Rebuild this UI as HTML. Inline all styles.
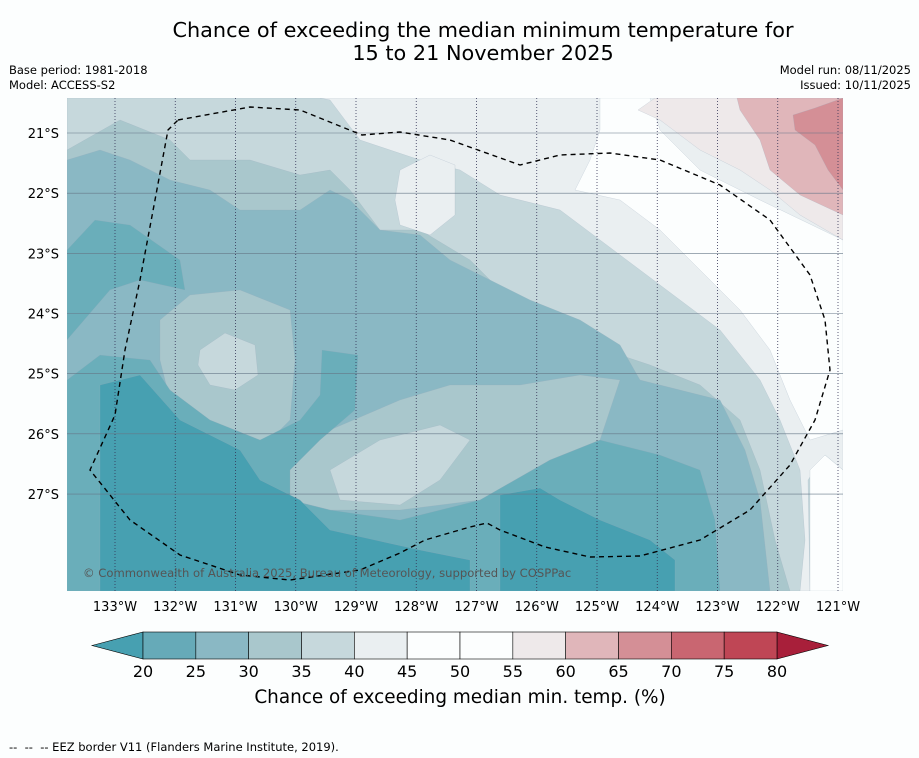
<!DOCTYPE html>
<html><head><meta charset="utf-8"><style>
body{margin:0;background:#fcfefe;font-family:"DejaVu Sans","Liberation Sans",sans-serif;}
#wrap{position:relative;width:919px;height:758px;overflow:hidden;}
.t{position:absolute;color:#000;}
svg text{font-family:"DejaVu Sans","Liberation Sans",sans-serif;}
</style></head><body>
<div id="wrap">
<div class="t" style="left:0;width:966px;top:19px;text-align:center;font-size:20.8px;line-height:23px;">Chance of exceeding the median minimum temperature for<br>15 to 21 November 2025</div>
<div class="t" style="left:9px;top:63px;font-size:11.5px;line-height:15px;">Base period: 1981-2018<br>Model: ACCESS-S2</div>
<div class="t" style="right:8px;top:63px;font-size:11.5px;line-height:15px;text-align:right;">Model run: 08/11/2025<br>Issued: 10/11/2025</div>
<div class="t" style="left:9px;top:740px;font-size:11.5px;">-- &nbsp;-- &nbsp;-- EEZ border V11 (Flanders Marine Institute, 2019).</div>
<svg id="svg" width="919" height="758" style="position:absolute;left:0;top:0"></svg>
</div>
<script>
const lonTicks=[133,132,131,130,129,128,127,126,125,124,123,122,121];
const latTicks=[21,22,23,24,25,26,27];
const cbTicks=[20,25,30,35,40,45,50,55,60,65,70,75,80];
const cbColors=["#66aab8","#8ab8c4","#a9c7cc","#c6d8dc","#eaeff1","#fcfefe","#fcfefe","#eee9ea","#e0b6ba","#d48f96","#c96671","#bf4655"];
const x=lon=>115+(133-lon)*60.25;
const y=lat=>133+(lat-21)*60.17;
const cx=v=>143+(v-20)*(634/60);
const NS="http://www.w3.org/2000/svg";
const svg=document.getElementById('svg');
function mk(tag,attrs,parent){const e=document.createElementNS(NS,tag);for(const k in attrs)e.setAttribute(k,attrs[k]);(parent||svg).appendChild(e);return e;}
const map=mk('g',{'clip-path':'url(#clip)'});


const defs=mk('defs',{});
const cp=mk('clipPath',{id:'clip'},defs);mk('rect',{x:67,y:98,width:776,height:493},cp);
const regions=[
["#a9c7cc","67,98 843,98 843,591 67,591"],
["#c6d8dc","67,98 843,98 843,591 790,591 775,540 760,470 740,420 700,385 650,365 590,345 540,320 500,290 470,260 420,230 380,230 350,190 330,170 300,175 250,160 190,160 170,140 120,120 67,150"],
["#eaeff1","320,98 843,98 843,470 825,455 808,480 810,591 800,591 805,540 800,470 780,420 760,380 720,330 680,300 640,270 600,240 560,210 500,195 460,170 420,160 360,140 330,100"],
["#eaeff1","400,170 430,155 455,165 455,215 430,235 400,225 395,200"],
["#fcfefe","600,98 650,98 660,130 700,170 760,200 843,240 843,430 810,440 790,400 770,350 740,310 700,270 660,230 620,200 575,190 590,160 600,130"],
["#fcfefe","810,470 825,455 843,470 843,591 810,591"],
["#eee9ea","655,98 843,98 843,240 800,215 770,190 740,170 700,150 660,120 638,110"],
["#e0b6ba","737,98 843,98 843,215 800,195 770,170 760,140 740,110"],
["#d48f96","793,115 815,108 843,98 843,190 828,170 815,145 795,130"],
["#8ab8c4","67,160 100,150 130,160 170,180 210,190 240,210 300,210 330,190 350,200 380,230 420,235 450,260 490,280 530,300 580,320 620,345 640,380 680,390 720,400 745,450 760,500 770,591 67,591"],
["#a9c7cc","160,320 190,295 240,290 290,310 295,360 290,420 270,440 240,440 200,420 170,400 160,360"],
["#c6d8dc","200,350 225,333 255,345 258,375 235,390 210,385 198,365"],
["#a9c7cc","290,470 330,430 400,400 450,385 520,385 580,375 620,380 600,440 550,460 480,500 400,510 330,510 290,500"],
["#c6d8dc","330,470 380,440 440,425 470,440 440,480 400,505 340,500"],
["#6aaeba","67,250 95,220 130,225 180,260 185,290 140,280 110,290 67,340"],
["#6aaeba","67,380 100,355 150,360 170,390 210,420 260,440 300,420 320,395 322,350 358,355 355,410 320,440 290,470 290,500 330,510 400,520 480,500 550,460 600,440 660,455 700,470 715,520 720,591 67,591"],
["#47a0b1","100,385 140,375 180,420 240,450 260,480 300,500 330,530 420,550 470,560 470,591 100,591"],
["#47a0b1","500,495 540,488 560,500 600,520 650,540 675,560 675,591 500,591"]
];
regions.forEach((r,i)=>{const p=mk('polygon',{points:r[1],fill:r[0],stroke:'#9ab',"stroke-width":0.4,"stroke-opacity":0.5},map);

});
lonTicks.forEach(l=>{const ln=mk('line',{x1:x(l),x2:x(l),y1:98,y2:591,stroke:'#335',"stroke-width":0.8,"stroke-dasharray":"1,2"},map);


const t=mk('text',{x:x(l),y:611,"text-anchor":"middle","font-size":13,fill:'#000'});t.textContent=l+"°W";

});
latTicks.forEach(l=>{const ln=mk('line',{x1:67,x2:843,y1:y(l),y2:y(l),stroke:'#678',"stroke-width":0.6},map);


const t=mk('text',{x:59,y:y(l)+5,"text-anchor":"end","font-size":13,fill:'#000'});t.textContent=l+"°S";

});
const eez=mk('polyline',{points:"178,120 250,107 300,110 362,135 400,132 450,140 520,165 560,155 610,153 660,160 720,185 770,220 810,275 825,320 830,370 815,420 790,465 750,510 700,540 640,556 590,557 545,547 500,530 487,523 470,527 425,540 400,553 360,570 290,580 240,575 180,555 130,520 90,470 115,415 125,350 140,280 155,200 168,130 178,120",fill:'none',stroke:'#000',"stroke-width":1.4,"stroke-dasharray":"5,4"},map);


const cr=mk('text',{x:83,y:577,"font-size":11.6,fill:'#555'});cr.textContent="© Commonwealth of Australia 2025, Bureau of Meteorology, supported by COSPPac";


const lt=mk('polygon',{points:`92,645.5 ${cx(20)},632 ${cx(20)},659`,fill:'#47a0b1',stroke:'#000',"stroke-width":0.6});


const rt=mk('polygon',{points:`${cx(80)},632 828,645.5 ${cx(80)},659`,fill:'#a81f3a',stroke:'#000',"stroke-width":0.6});


cbColors.forEach((c,i)=>{const r=mk('rect',{x:cx(cbTicks[i]),y:632,width:cx(cbTicks[i+1])-cx(cbTicks[i]),height:27,fill:c,stroke:'#000',"stroke-width":0.6});

});
cbTicks.forEach(v=>{const t=mk('text',{x:cx(v),y:677,"text-anchor":"middle","font-size":16,fill:'#000'});t.textContent=v;

});
const ct=mk('text',{x:460,y:703,"text-anchor":"middle","font-size":18.4,fill:'#000'});ct.textContent="Chance of exceeding median min. temp. (%)";


</script>
</body></html>
